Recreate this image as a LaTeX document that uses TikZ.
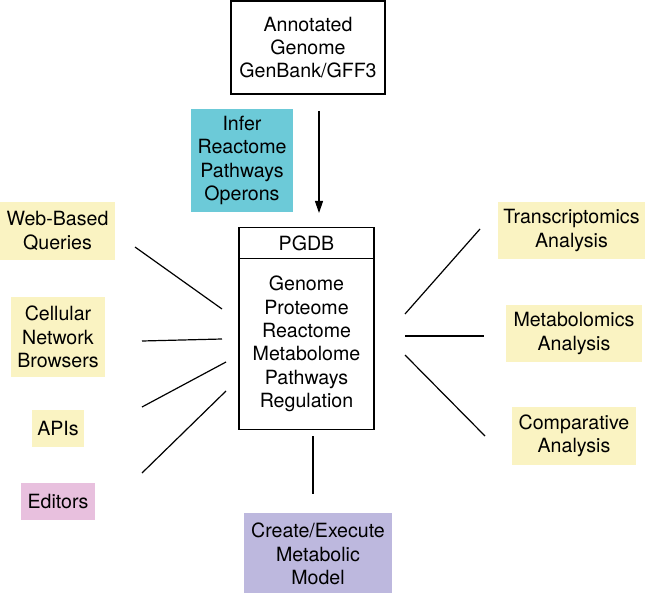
\documentclass[tikz,border=0pt]{standalone}
\usepackage{fontspec}
\setmainfont{TeX Gyre Heros}
\usetikzlibrary{arrows.meta}
\definecolor{ylw}{HTML}{FAF3C2}
\definecolor{cyn}{HTML}{6CCAD8}
\definecolor{lav}{HTML}{BDB8DE}
\definecolor{pnk}{HTML}{E8C0DE}
\begin{document}
\begin{tikzpicture}[x=1pt,y=-1pt,
  txt/.style={font=\fontsize{19.6}{23.4}\selectfont, align=center, inner sep=0pt, rectangle},
  outlined/.style={txt, draw=black, line width=1.2pt},
  filled/.style={txt, fill=#1},
  conn/.style={line width=1.2pt}]
\useasboundingbox (0,0) rectangle (650,593);
\fill[white] (0,0) rectangle (650,593);
% top
\node[outlined, minimum width=154pt, minimum height=93pt] (ann) at (308,47.5) {Annotated\\Genome\\GenBank/GFF3};
\node[filled=cyn, minimum width=102pt, minimum height=103pt] (infer) at (242,160.5) {Infer\\Reactome\\Pathways\\Operons};
% PGDB
\node[outlined, minimum width=135pt, minimum height=31pt, anchor=north] (pgdbt) at (306.5,227) {PGDB};
\node[outlined, minimum width=135pt, minimum height=171pt, anchor=north] (pgdb) at (306.5,258) {Genome\\Proteome\\Reactome\\Metabolome\\Pathways\\Regulation};
% left
\node[filled=ylw, minimum width=115pt, minimum height=58pt] (web) at (57.5,231) {Web-Based\\Queries};
\node[filled=ylw, minimum width=94pt, minimum height=80pt] (cell) at (58,337) {Cellular\\Network\\Browsers};
\node[filled=ylw, minimum width=52pt, minimum height=37pt] (api) at (58,428.5) {APIs};
\node[filled=pnk, minimum width=74pt, minimum height=37pt] (edit) at (58,501.5) {Editors};
% right
\node[filled=ylw, minimum width=147pt, minimum height=57pt] (trans) at (571.5,230.5) {Transcriptomics\\Analysis};
\node[filled=ylw, minimum width=136pt, minimum height=57pt] (metab) at (574,333.5) {Metabolomics\\Analysis};
\node[filled=ylw, minimum width=124pt, minimum height=58pt] (comp) at (574,436) {Comparative\\Analysis};
% bottom
\node[filled=lav, minimum width=148pt, minimum height=82pt] (model) at (318,554) {Create/Execute\\Metabolic\\Model};
% connector end points
\coordinate (a1) at (319,111); \coordinate (a2) at (319,213);
\coordinate (l1a) at (135,247); \coordinate (l1b) at (222,309);
\coordinate (l2a) at (142,341); \coordinate (l2b) at (222,339);
\coordinate (l3a) at (142,407); \coordinate (l3b) at (226,362);
\coordinate (l4a) at (142,473); \coordinate (l4b) at (226,391);
\coordinate (r1a) at (405,314); \coordinate (r1b) at (480,229);
\coordinate (r2a) at (405,336); \coordinate (r2b) at (484,336);
\coordinate (r3a) at (405,355); \coordinate (r3b) at (485,436);
\coordinate (b1) at (313,436); \coordinate (b2) at (313,494);
\draw[conn, -{Triangle[length=12pt,width=8pt]}] (a1) -- (a2);
\draw[conn] (l1a) -- (l1b);
\draw[conn] (l2a) -- (l2b);
\draw[conn] (l3a) -- (l3b);
\draw[conn] (l4a) -- (l4b);
\draw[conn] (r1a) -- (r1b);
\draw[conn] (r2a) -- (r2b);
\draw[conn] (r3a) -- (r3b);
\draw[conn] (b1) -- (b2);
\end{tikzpicture}
\end{document}
